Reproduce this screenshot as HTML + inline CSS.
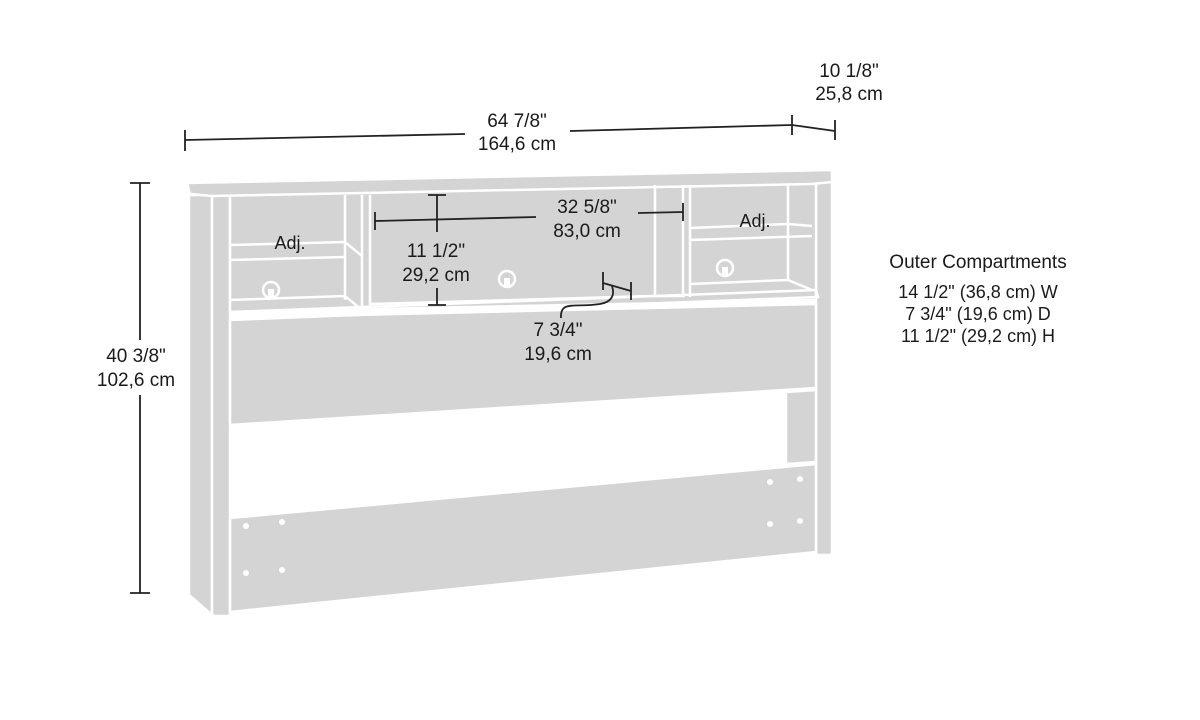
<!DOCTYPE html>
<html><head><meta charset="utf-8"><style>
html,body{margin:0;padding:0;background:#fff;width:1200px;height:720px;overflow:hidden}
text{font-family:"Liberation Sans",sans-serif;fill:#1a1a1a}
</style></head><body>
<svg width="1200" height="720" viewBox="0 0 1200 720" xmlns="http://www.w3.org/2000/svg">
<g fill="#d4d4d4" stroke="#fff" stroke-width="2.5" stroke-linejoin="round">
 <polygon points="189,195 212,195 212,615 189,595"/>
 <rect x="212" y="195" width="18" height="421" rx="3"/>
 <rect x="816" y="180" width="16" height="375" rx="3"/>
 <polygon points="230,195 816,183 816,300 230,312"/>
 <polygon points="230,318 816,304 816,388 230,425"/>
 <polygon points="786,392 816,390 816,462 786,464"/>
 <polygon points="230,518 816,464 816,552 230,612"/>
 <polygon points="187,183 832,170 832,182 812,184 212,196 190,194"/>
</g>
<g fill="none" stroke="#fff" stroke-width="2.5">
 <polyline points="230,245 345,242 362,256"/>
 <polyline points="230,260 345,257"/>
 <line x1="345" y1="195" x2="345" y2="300"/>
 <line x1="362" y1="195" x2="362" y2="312"/>
 <line x1="370" y1="195" x2="370" y2="308"/>
 <polyline points="230,300 345,296 362,310"/>
 <polyline points="370,304 655,296 685,296"/>
 <line x1="655" y1="185" x2="655" y2="296"/>
 <line x1="683" y1="185" x2="683" y2="297"/>
 <line x1="690" y1="185" x2="690" y2="297"/>
 <polyline points="690,228 788,224 812,226"/>
 <polyline points="690,240 812,236"/>
 <line x1="788" y1="184" x2="788" y2="280"/>
 <polyline points="690,284 788,280 812,290"/>
 <polyline points="230,312 816,290 818,297 230,320"/>
</g>
<g fill="none" stroke="#fff" stroke-width="2.5">
 <circle cx="271" cy="290" r="8"/><circle cx="507" cy="279" r="8"/><circle cx="725" cy="268" r="8"/>
</g>
<g fill="#fff">
 <rect x="268" y="289" width="6" height="8"/><rect x="504" y="278" width="6" height="8"/><rect x="722" y="267" width="6" height="8"/>
 <circle cx="246" cy="526" r="3"/><circle cx="282" cy="522" r="3"/>
 <circle cx="246" cy="573" r="3"/><circle cx="282" cy="570" r="3"/>
 <circle cx="770" cy="482" r="3"/><circle cx="800" cy="479" r="3"/>
 <circle cx="770" cy="524" r="3"/><circle cx="800" cy="521" r="3"/>
</g>
<g stroke="#222" stroke-width="1.8" fill="none">
 <line x1="185" y1="130" x2="185" y2="151"/>
 <line x1="185" y1="140" x2="465" y2="134"/>
 <line x1="570" y1="131" x2="792" y2="125"/>
 <line x1="792" y1="115" x2="792" y2="135"/>
 <line x1="792" y1="125" x2="835" y2="131"/>
 <line x1="835" y1="120" x2="835" y2="140"/>
 <line x1="130" y1="183" x2="150" y2="183"/>
 <line x1="140" y1="183" x2="140" y2="340"/>
 <line x1="140" y1="395" x2="140" y2="593"/>
 <line x1="130" y1="593" x2="150" y2="593"/>
 <line x1="375" y1="212" x2="375" y2="230"/>
 <line x1="375" y1="221" x2="536" y2="217"/>
 <line x1="638" y1="213" x2="683" y2="212"/>
 <line x1="683" y1="203" x2="683" y2="221"/>
 <line x1="428" y1="195" x2="446" y2="195"/>
 <line x1="437" y1="195" x2="437" y2="232"/>
 <line x1="437" y1="288" x2="437" y2="305"/>
 <line x1="428" y1="305" x2="446" y2="305"/>
 <line x1="603" y1="272" x2="603" y2="290"/>
 <line x1="603" y1="283" x2="631" y2="291"/>
 <line x1="631" y1="282" x2="631" y2="300"/>
 <path d="M561,318 C560,300 575,308 600,304 C612,302 615,295 612,286"/>
</g>
<g font-size="19" text-anchor="middle">
 <text x="517" y="127">64 7/8"</text><text x="517" y="150">164,6 cm</text>
 <text x="849" y="77">10 1/8"</text><text x="849" y="100">25,8 cm</text>
 <text x="136" y="362">40 3/8"</text><text x="136" y="386">102,6 cm</text>
 <text x="587" y="213">32 5/8"</text><text x="587" y="237">83,0 cm</text>
 <text x="436" y="257">11 1/2"</text><text x="436" y="281">29,2 cm</text>
 <text x="558" y="336">7 3/4"</text><text x="558" y="360">19,6 cm</text>
 <text x="290" y="249" font-size="18">Adj.</text>
 <text x="755" y="227" font-size="18">Adj.</text>
 <text x="978" y="268">Outer Compartments</text>
 <text x="978" y="298" font-size="18">14 1/2" (36,8 cm) W</text>
 <text x="978" y="320" font-size="18">7 3/4" (19,6 cm) D</text>
 <text x="978" y="342" font-size="18">11 1/2" (29,2 cm) H</text>
</g>
</svg>
</body></html>
